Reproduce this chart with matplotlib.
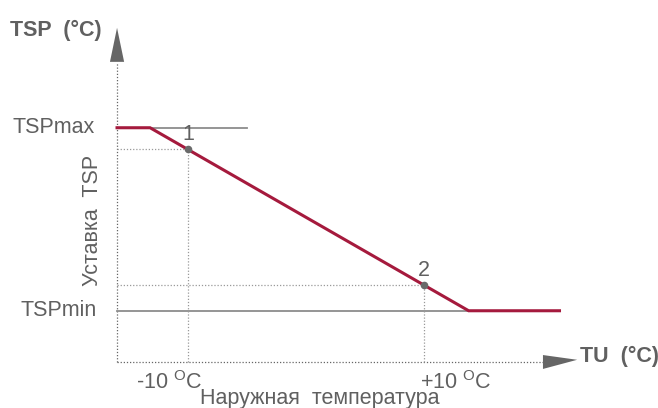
import matplotlib
matplotlib.use("Agg")
import matplotlib.pyplot as plt

plt.rcParams["font.family"] = ["Liberation Sans", "DejaVu Sans"]
plt.rcParams["mathtext.fontset"] = "custom"
plt.rcParams["mathtext.rm"] = "Liberation Sans"

# Heating curve: outdoor temperature TU (°C) -> setpoint TSP (relative scale)
curve_tu = [-16.0, -13.2, 13.8, 21.5]
curve_tsp = [64.0, 64.0, 14.0, 14.0]
tsp_max = 64.0
tsp_min = 14.0
tsp_max_line_end = -5.0
point_labels = ["1", "2"]
point_tu = [-10.0, 10.0]
point_tsp = [58.1, 21.0]
tick_labels = ["-10", "+10"]
tick_label_shift = [-4.4, -0.3]

TU_START, TU_END = -16.0, 23.0
TSP_START, TSP_END = 0.0, 91.3

RED = "#a51a3d"
GREY = "#8c8c8c"
TEXT = "#606060"
FS = 15.5

fig = plt.figure(figsize=(6.58, 4.08), dpi=100)
ax = fig.add_axes([0, 0, 1, 1])
ax.set_xlim(-25.92, 29.85)
ax.set_ylim(-12.57, 98.9)
ax.axis("off")

# dotted axes with solid arrow heads
dot = (0, (1, 1.5))
ax.plot([TU_START, TU_START], [TSP_START, TSP_END - 9.3], color="#666666",
        lw=0.9, ls=dot)
ax.plot([TU_START, TU_END - 2.9], [TSP_START, TSP_START], color="#666666",
        lw=0.9, ls=dot)
ax.fill([TU_START - 0.6, TU_START + 0.6, TU_START],
        [TSP_END - 9.3, TSP_END - 9.3, TSP_END], color="#666666", lw=0)
ax.fill([TU_END - 2.9, TU_END - 2.9, TU_END],
        [TSP_START - 1.9, TSP_START + 1.9, TSP_START + 0.6],
        color="#666666", lw=0)

# limit lines
ax.plot([TU_START, tsp_max_line_end], [tsp_max, tsp_max], color=GREY, lw=1.3)
ax.plot([TU_START, curve_tu[2]], [tsp_min, tsp_min], color=GREY, lw=1.3)

# guide lines to the two reference points
for tu, tsp in zip(point_tu, point_tsp):
    ax.plot([TU_START, tu], [tsp, tsp], color="#999999", lw=0.9, ls=dot)
    ax.plot([tu, tu], [TSP_START, tsp], color="#999999", lw=0.9, ls=dot)

ax.plot(curve_tu, curve_tsp, color=RED, lw=2.2, solid_joinstyle="miter",
        zorder=3)
ax.scatter(point_tu, point_tsp, s=30, color="#6a6a6a", zorder=4, lw=0)

for lab, tu, tsp in zip(point_labels, point_tu, point_tsp):
    ax.text(tu, tsp + 4.0, lab, ha="center", va="center", fontsize=FS,
            color=TEXT)

for lab, tu, dx in zip(tick_labels, point_tu, tick_label_shift):
    ax.text(tu + dx, -5.5, lab + r" $^{\mathregular{O}}$C", ha="left",
            va="center", fontsize=FS, color=TEXT)

ax.text(1.2, -9.9, "Наружная  температура", ha="center", va="center",
        fontsize=FS, color=TEXT)
ax.text(-18.1, 38.8, "Уставка  TSP", ha="center", va="center",
        rotation=90, fontsize=FS, color=TEXT)
ax.text(-17.9, tsp_max, "TSPmax", ha="right", va="center", fontsize=FS,
        color=TEXT)
ax.text(-17.7, tsp_min, "TSPmin", ha="right", va="center", fontsize=FS,
        color=TEXT)
ax.text(-25.1, 90.7, "TSP  (°C)", ha="left", va="center", fontsize=FS,
        fontweight="bold", color=TEXT)
ax.text(23.2, 1.4, "TU  (°C)", ha="left", va="center", fontsize=FS,
        fontweight="bold", color=TEXT)

fig.savefig("out.png", dpi=100)
